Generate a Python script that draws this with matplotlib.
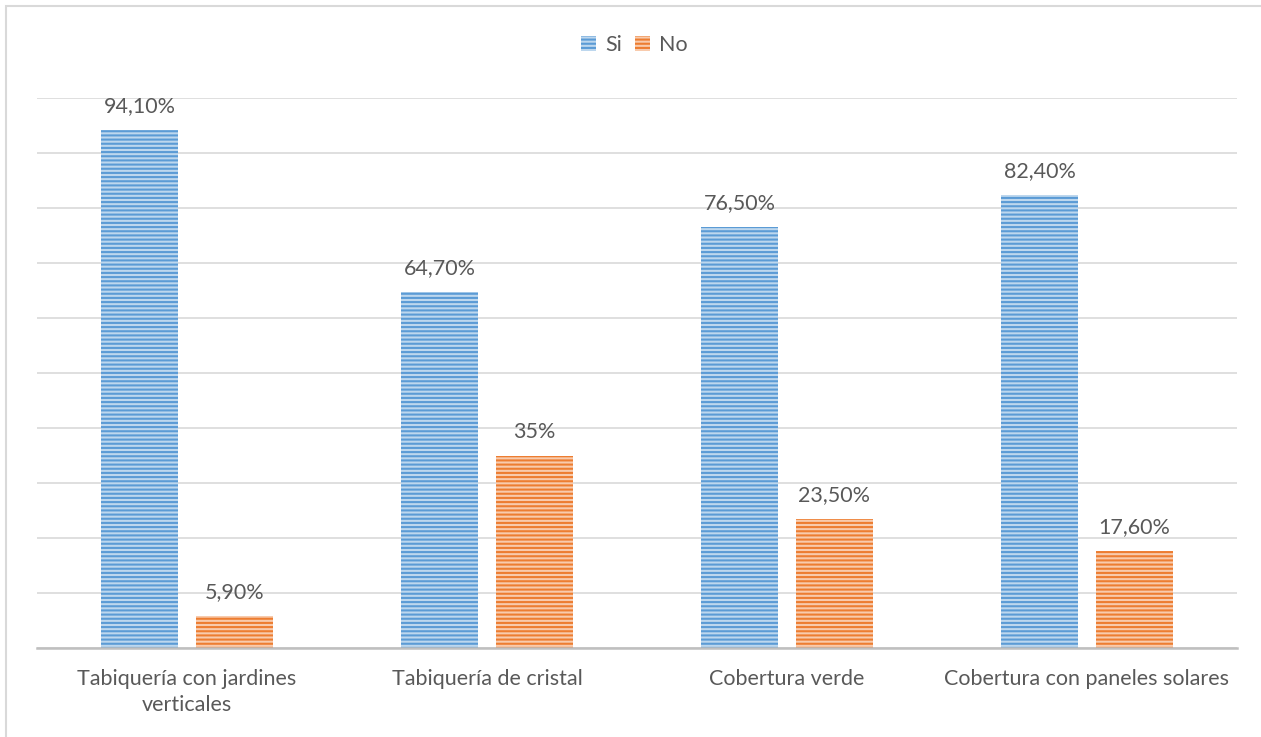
import matplotlib.pyplot as plt
import numpy as np

categorias = ['Tabiquería con jardines\nverticales', 'Tabiquería de cristal',
              'Cobertura verde', 'Cobertura con paneles solares']
si = [94.1, 64.7, 76.5, 82.4]
no = [5.9, 35.0, 23.5, 17.6]
etiquetas_si = ['94,10%', '64,70%', '76,50%', '82,40%']
etiquetas_no = ['5,90%', '35%', '23,50%', '17,60%']

plt.rcParams['font.family'] = ['Lato', 'DejaVu Sans']
plt.rcParams['hatch.linewidth'] = 1.5
gris = '#595959'

fig = plt.figure(figsize=(12.61, 7.37), dpi=100)
ax = fig.add_axes([37 / 1261, 1 - 648 / 737, 1200 / 1261, 550 / 737])

x = np.arange(len(categorias))
ancho = 0.257
desp = 0.158
b1 = ax.bar(x - desp, si, ancho, color='#BDD7EE', edgecolor='#5B9BD5', hatch='----', linewidth=0, label='Si')
b2 = ax.bar(x + desp, no, ancho, color='#F8CBAD', edgecolor='#ED7D31', hatch='----', linewidth=0, label='No')

for barras, textos in ((b1, etiquetas_si), (b2, etiquetas_no)):
    for b, t in zip(barras, textos):
        ax.annotate(t, (b.get_x() + b.get_width() / 2, b.get_height()), xytext=(0, 10),
                    textcoords='offset points', ha='center', va='bottom', fontsize=15.5, color=gris)

ax.set_xlim(-0.5, 3.5)
ax.set_ylim(0, 100)
ax.set_yticks(np.arange(0, 101, 10))
ax.set_yticklabels([])
ax.tick_params(axis='y', length=0)
ax.tick_params(axis='x', length=0, pad=15, labelsize=15.5, labelcolor=gris)
ax.set_xticks(x)
ax.set_xticklabels(categorias, linespacing=1.4)
ax.grid(axis='y', color='#D9D9D9', linewidth=1.2)
ax.set_axisbelow(True)
for s in ['top', 'right', 'left']:
    ax.spines[s].set_visible(False)
ax.spines['bottom'].set_color('#BFBFBF')
ax.spines['bottom'].set_linewidth(1.8)

fig.legend(handles=[b1, b2], loc='center', bbox_to_anchor=(0.503, 1 - 45 / 737), ncol=2, frameon=False,
           fontsize=15.5, labelcolor=gris, handlelength=0.7, handleheight=0.7, handletextpad=0.4,
           columnspacing=0.6)

fig.patches.append(plt.Rectangle((6 / 1261, -0.01), 1.1, 1 - 6 / 737 + 0.01, transform=fig.transFigure,
                                 fill=False, edgecolor='#D9D9D9', linewidth=1.5))

fig.savefig('out.png', dpi=100)
